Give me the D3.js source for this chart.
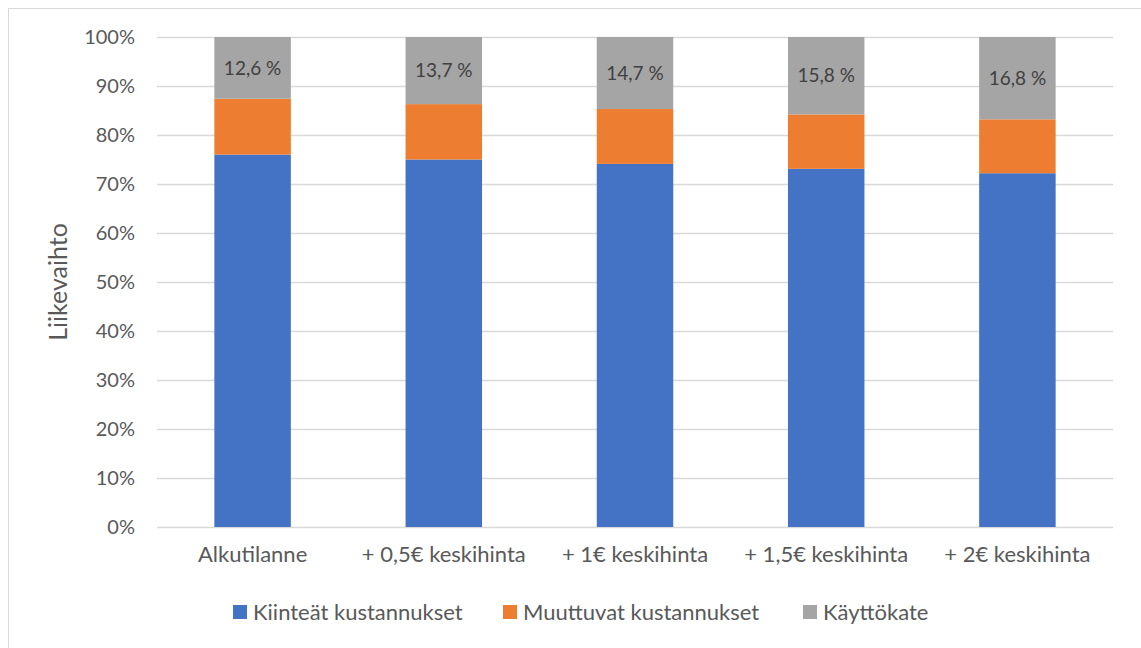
<!DOCTYPE html>
<html lang="fi">
<head>
<meta charset="utf-8">
<title>Liikevaihto</title>
<script src="https://cdn.jsdelivr.net/npm/d3@7"></script>
<style>
  body { margin: 0; background: #fff; }
  svg text { font-family: Lato, "Open Sans", sans-serif; }
</style>
</head>
<body>
<div id="chart"></div>
<script>
// data
const categories = ["Alkutilanne", "+ 0,5€ keskihinta", "+ 1€ keskihinta", "+ 1,5€ keskihinta", "+ 2€ keskihinta"];
const seriesNames = ["Kiinteät kustannukset", "Muuttuvat kustannukset", "Käyttökate"];
const kiinteat = [76.0, 75.0, 74.1, 73.1, 72.2];
const muuttuvat = [11.4, 11.3, 11.2, 11.1, 11.0];
const kayttokate = [12.6, 13.7, 14.7, 15.8, 16.8];
const kateLabels = ["12,6 %", "13,7 %", "14,7 %", "15,8 %", "16,8 %"];
const yTicks = [0, 10, 20, 30, 40, 50, 60, 70, 80, 90, 100];
const colors = ["#4472C4", "#ED7D31", "#A5A5A5"];

const width = 1141, height = 648;
const margin = {left: 157, right: 28, top: 37, bottom: 121};

const svg = d3.select("#chart").append("svg")
  .attr("width", width)
  .attr("height", height);

// chart frame
svg.append("rect")
  .attr("x", 8.5).attr("y", 8.5)
  .attr("width", width + 10).attr("height", height + 10)
  .attr("fill", "none")
  .attr("stroke", "#d9d9d9")
  .attr("stroke-width", 1);

const x = d3.scaleBand()
  .domain(categories)
  .range([margin.left, width - margin.right])
  .paddingInner(0.6)
  .paddingOuter(0.3);

const y = d3.scaleLinear()
  .domain([0, 100])
  .range([height - margin.bottom, margin.top]);

// gridlines
svg.append("g")
  .selectAll("line")
  .data(yTicks)
  .join("line")
  .attr("x1", margin.left)
  .attr("x2", width - margin.right)
  .attr("y1", d => Math.round(y(d)) + 0.5)
  .attr("y2", d => Math.round(y(d)) + 0.5)
  .attr("stroke", "#d9d9d9")
  .attr("stroke-width", 1.5);

// y axis labels
const yAxis = d3.axisLeft(y).tickValues(yTicks).tickFormat(d => d + "%").tickSize(0).tickPadding(22);
const yg = svg.append("g").attr("transform", `translate(${margin.left},0)`).call(yAxis);
yg.select(".domain").remove();
yg.selectAll("text").attr("fill", "#595959").style("font-size", "20px");

// x axis labels
const xAxis = d3.axisBottom(x).tickSize(0).tickPadding(19);
const xg = svg.append("g").attr("transform", `translate(0,${height - margin.bottom})`).call(xAxis);
xg.select(".domain").remove();
xg.selectAll("text").attr("fill", "#595959").style("font-size", "22px");

// stacked data
const rows = categories.map((c, i) => ({
  cat: c,
  [seriesNames[0]]: kiinteat[i],
  [seriesNames[1]]: muuttuvat[i],
  [seriesNames[2]]: kayttokate[i]
}));
const stacked = d3.stack().keys(seriesNames)(rows);

svg.append("g")
  .selectAll("g")
  .data(stacked)
  .join("g")
  .attr("fill", (d, i) => colors[i])
  .selectAll("rect")
  .data(d => d)
  .join("rect")
  .attr("x", d => x(d.data.cat))
  .attr("y", d => y(d[1]))
  .attr("width", x.bandwidth())
  .attr("height", d => y(d[0]) - y(d[1]));

// data labels on top segment
svg.append("g")
  .selectAll("text")
  .data(stacked[2])
  .join("text")
  .attr("x", d => x(d.data.cat) + x.bandwidth() / 2)
  .attr("y", d => (y(d[0]) + y(d[1])) / 2)
  .attr("dy", "0.35em")
  .attr("text-anchor", "middle")
  .attr("fill", "#404040")
  .style("font-size", "19px")
  .text((d, i) => kateLabels[i]);

// y axis title
svg.append("text")
  .attr("transform", `translate(67,${(y(0) + y(100)) / 2}) rotate(-90)`)
  .attr("text-anchor", "middle")
  .attr("fill", "#595959")
  .style("font-size", "25px")
  .text("Liikevaihto");

// legend
const legendX = [233, 503, 803];
const lg = svg.append("g")
  .selectAll("g")
  .data(seriesNames)
  .join("g")
  .attr("transform", (d, i) => `translate(${legendX[i]},612)`);
lg.append("rect")
  .attr("x", 0).attr("y", -7)
  .attr("width", 14).attr("height", 14)
  .attr("fill", (d, i) => colors[i]);
lg.append("text")
  .attr("x", 20)
  .attr("dy", "0.35em")
  .attr("fill", "#595959")
  .style("font-size", "22px")
  .text(d => d);
</script>
</body>
</html>
